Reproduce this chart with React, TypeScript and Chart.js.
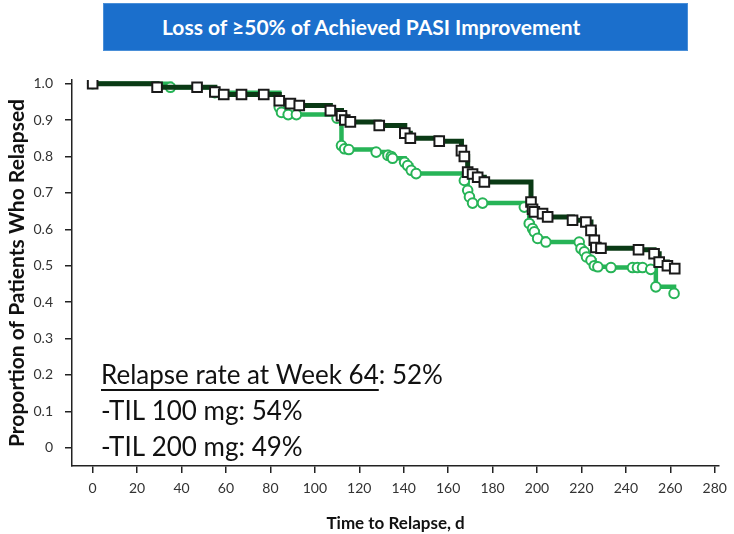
import React, { useEffect, useRef } from "react";
import { Chart, registerables } from "chart.js";

Chart.register(...registerables);

const titleText = "Loss of ≥50% of Achieved PASI Improvement";
const xTitle = "Time to Relapse, d";
const yTitle = "Proportion of Patients Who Relapsed";
const xTickValues = [0, 20, 40, 60, 80, 100, 120, 140, 160, 180, 200, 220, 240, 260, 280];
const yTickValues = [0, 0.1, 0.2, 0.3, 0.4, 0.5, 0.6, 0.7, 0.8, 0.9, 1.0];

const til200Days = [0, 29, 47, 55, 59, 67, 77, 84, 89, 93, 107, 112, 113.5, 116, 129, 140.5, 143, 156, 166, 167.3, 168.8, 171, 173.3, 176.3, 197.3, 198, 198.8, 202.5, 204.8, 216, 222, 224.3, 225.8, 226.5, 228.8, 245.7, 252.7, 255, 258.7, 262];
const til200Values = [1.0, 0.99, 0.99, 0.977, 0.97, 0.97, 0.97, 0.953, 0.945, 0.94, 0.926, 0.912, 0.9, 0.895, 0.885, 0.864, 0.85, 0.842, 0.816, 0.8, 0.757, 0.752, 0.743, 0.73, 0.675, 0.655, 0.648, 0.643, 0.634, 0.625, 0.62, 0.597, 0.57, 0.55, 0.548, 0.544, 0.533, 0.51, 0.5, 0.492];

const til100Days = [0, 35, 55, 84, 85, 88, 91.7, 110, 112, 113.4, 115.3, 127.6, 132.9, 134.4, 135, 140.4, 141.8, 143.4, 145.6, 167.3, 168.8, 169.6, 171, 175.5, 194.3, 196.5, 198, 198.8, 200.3, 204, 219, 219.8, 221.3, 222.3, 224.3, 225.8, 227.4, 233.3, 243, 245.2, 247.5, 251.2, 253.5, 261.7];
const til100Values = [1.0, 0.99, 0.975, 0.935, 0.921, 0.915, 0.915, 0.905, 0.83, 0.821, 0.819, 0.812, 0.803, 0.8, 0.795, 0.784, 0.775, 0.762, 0.753, 0.734, 0.707, 0.689, 0.672, 0.672, 0.661, 0.616, 0.602, 0.593, 0.575, 0.565, 0.565, 0.547, 0.538, 0.524, 0.515, 0.5, 0.497, 0.495, 0.495, 0.495, 0.495, 0.49, 0.442, 0.424];

const noteHeading = "Relapse rate at Week 64";
const noteHeadingValue = ": 52%";
const noteLines = ["-TIL 100 mg: 54%", "-TIL 200 mg: 49%"];

const DARK = "#0a3a15";
const LIGHT = "#27b457";
const FONT = "Lato, 'Open Sans', sans-serif";

const notePlugin = {
  id: "notePlugin",
  afterDraw(chart: any) {
    const ctx = chart.ctx;
    ctx.save();
    ctx.fillStyle = "#111";
    ctx.font = `26px ${FONT}`;
    ctx.textBaseline = "alphabetic";
    ctx.textAlign = "left";
    const x0 = 101;
    ctx.fillText(noteHeading, x0, 384);
    const w = ctx.measureText(noteHeading).width;
    ctx.fillText(noteHeadingValue, x0 + w, 384);
    ctx.fillRect(x0, 389, w, 2);
    ctx.fillText(noteLines[0], x0, 420);
    ctx.fillText(noteLines[1], x0, 456);
    ctx.restore();
  },
};

export default function App() {
  const ref = useRef<HTMLCanvasElement>(null);
  useEffect(() => {
    const canvas = ref.current!;
    const mk = (days: number[], vals: number[]) => days.map((d, i) => ({ x: d, y: vals[i] }));
    const chart = new Chart(canvas, {
      type: "line",
      data: {
        datasets: [
          {
            label: "TIL 200 mg",
            data: mk(til200Days, til200Values),
            stepped: true,
            borderColor: DARK,
            borderWidth: 5,
            pointStyle: "rect",
            pointRadius: 6.8,
            pointBorderWidth: 2,
            pointBackgroundColor: "#ffffff",
            pointBorderColor: "#1a1a1a",
            fill: false,
          },
          {
            label: "TIL 100 mg",
            data: mk(til100Days, til100Values),
            stepped: true,
            borderColor: LIGHT,
            borderWidth: 4.5,
            pointStyle: "circle",
            pointRadius: 4.8,
            pointBorderWidth: 2,
            pointBackgroundColor: "#ffffff",
            pointBorderColor: LIGHT,
            fill: false,
          },
        ],
      },
      options: {
        responsive: false,
        animation: false,
        devicePixelRatio: 1,
        layout: { padding: { top: 80, right: 14, left: 0, bottom: 0 } },
        plugins: { legend: { display: false }, tooltip: { enabled: false } },
        scales: {
          x: {
            type: "linear",
            min: -9.3,
            max: 282,
            afterFit: (s: any) => { s.height = 68; },
            afterBuildTicks: (s: any) => { s.ticks = xTickValues.map((v) => ({ value: v })); },
            grid: { display: true, drawOnChartArea: false, drawTicks: true, tickLength: 7, color: "#222", lineWidth: 1.5 },
            border: { display: true, color: "#222", width: 1.5 },
            ticks: { padding: 7, color: "#333", font: { family: FONT, size: 14 }, maxRotation: 0, autoSkip: false },
            title: { display: true, text: xTitle, color: "#111", font: { family: FONT, size: 17, weight: "bold" }, padding: { top: 0, bottom: 0 } },
          },
          y: {
            type: "linear",
            min: -0.05,
            max: 1.01,
            afterFit: (s: any) => { s.width = 72; },
            afterBuildTicks: (s: any) => { s.ticks = yTickValues.map((v) => ({ value: v })); },
            grid: { display: true, drawOnChartArea: false, drawTicks: true, tickLength: 7, color: "#222", lineWidth: 1.5 },
            border: { display: true, color: "#222", width: 1.5 },
            ticks: {
              padding: 12,
              color: "#333",
              font: { family: FONT, size: 14 },
              callback: (v: any) => (Number(v) === 0 ? "0" : Number(v).toFixed(1)),
            },
            title: { display: true, text: yTitle, color: "#111", font: { family: FONT, size: 21, weight: "bold" }, padding: { top: 5, bottom: 0 } },
          },
        },
      },
      plugins: [notePlugin],
    } as any);
    return () => chart.destroy();
  }, []);

  return (
    <div style={{ position: "fixed", left: 0, top: 0, width: 734, height: 534, background: "#fff" }}>
      <canvas ref={ref} width={734} height={534} style={{ position: "absolute", left: 0, top: 0 }} />
      <div
        style={{
          position: "absolute",
          left: 103,
          top: 3,
          width: 585,
          height: 48,
          background: "#1b6fcc",
          boxSizing: "border-box",
          border: "1px solid #4a8fd8",
          color: "#fff",
          fontFamily: FONT,
          fontWeight: "bold",
          fontSize: 21,
          lineHeight: "46px",
          paddingLeft: 58,
          whiteSpace: "nowrap",
        }}
      >
        {titleText}
      </div>
    </div>
  );
}
